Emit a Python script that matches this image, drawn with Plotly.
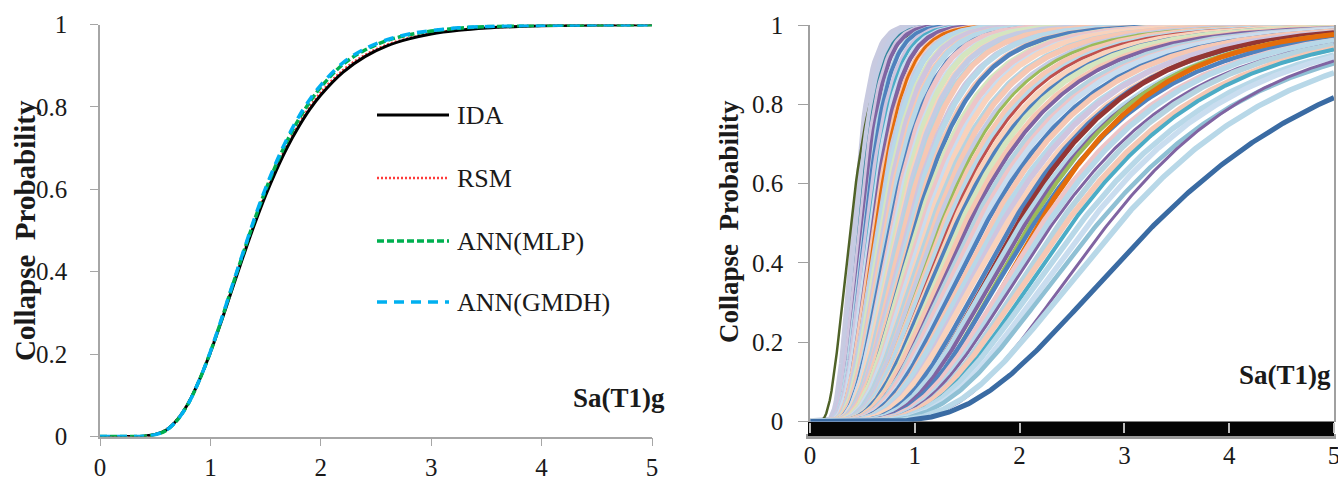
import math
import numpy as np
import plotly.graph_objects as go

# ---------------- Left panel data ----------------
sa_left = [0, 0.1, 0.2, 0.3, 0.4, 0.5, 0.6, 0.7, 0.8, 0.9, 1.0, 1.1, 1.2, 1.3, 1.4, 1.5,
           1.6, 1.7, 1.8, 1.9, 2.0, 2.2, 2.4, 2.6, 2.8, 3.0, 3.25, 3.5, 3.75, 4.0, 4.5, 5.0]
ida = [0, 0, 0, 0.0001, 0.0008, 0.0047, 0.016, 0.041, 0.081, 0.137, 0.204, 0.280, 0.360,
       0.439, 0.515, 0.585, 0.648, 0.704, 0.752, 0.794, 0.829, 0.884, 0.922, 0.948, 0.965,
       0.977, 0.986, 0.9915, 0.9948, 0.9968, 0.9988, 0.9995]
rsm = [0, 0, 0, 0.0001, 0.0009, 0.005, 0.017, 0.042, 0.082, 0.138, 0.206, 0.283, 0.364,
       0.444, 0.521, 0.591, 0.654, 0.710, 0.758, 0.800, 0.835, 0.889, 0.926, 0.951, 0.967,
       0.979, 0.987, 0.992, 0.995, 0.997, 0.9989, 0.9995]
ann_mlp = [0, 0, 0, 0.0001, 0.0008, 0.0045, 0.015, 0.040, 0.080, 0.137, 0.205, 0.283, 0.366,
           0.447, 0.526, 0.598, 0.663, 0.720, 0.770, 0.812, 0.848, 0.903, 0.938, 0.961, 0.975,
           0.984, 0.991, 0.995, 0.997, 0.998, 0.9993, 0.9997]
ann_gmdh = [0, 0, 0, 0.0001, 0.0008, 0.0045, 0.015, 0.040, 0.080, 0.137, 0.206, 0.285, 0.368,
            0.450, 0.530, 0.603, 0.668, 0.726, 0.776, 0.818, 0.853, 0.907, 0.941, 0.963, 0.977,
            0.985, 0.992, 0.995, 0.997, 0.998, 0.9993, 0.9997]
series_names = ["IDA", "RSM", "ANN(MLP)", "ANN(GMDH)"]

# ---------------- Right panel data: fragility curves (median Sa, dispersion) ----------------
frag_median = [0.42, 0.39, 0.45, 0.47, 0.48, 0.50, 0.52, 0.53, 0.55, 0.57, 0.58, 0.60, 0.62,
               0.63, 0.65, 0.67, 0.69,
               0.71, 0.73, 0.75, 0.77, 0.79, 0.81, 0.83, 0.85, 0.87, 0.89, 0.91, 0.94, 0.96,
               0.99, 1.01, 1.04, 1.07, 1.10, 1.13, 1.16, 1.19,
               1.22, 1.25, 1.28, 1.31, 1.34, 1.37, 1.40, 1.44, 1.48, 1.52, 1.56, 1.60, 1.64,
               1.68, 1.73, 1.78, 1.83, 1.88,
               1.93, 1.98, 2.02, 2.06, 2.10, 2.14, 2.18, 2.22, 2.27, 2.32, 2.38, 2.44, 2.50,
               2.58, 2.66, 2.75, 2.85, 2.95, 3.30]
frag_beta = [0.30, 0.45, 0.30, 0.31, 0.32, 0.31, 0.33, 0.32, 0.34, 0.33, 0.35, 0.34, 0.36,
             0.35, 0.37, 0.36, 0.38,
             0.37, 0.39, 0.38, 0.40, 0.39, 0.41, 0.40, 0.42, 0.41, 0.43, 0.42, 0.44, 0.43,
             0.45, 0.44, 0.46, 0.45, 0.46, 0.45, 0.47, 0.46,
             0.48, 0.47, 0.48, 0.49, 0.48, 0.49, 0.50, 0.49, 0.50, 0.49, 0.50, 0.50, 0.49,
             0.50, 0.49, 0.50, 0.48, 0.49,
             0.47, 0.45, 0.47, 0.46, 0.44, 0.46, 0.42, 0.46, 0.45, 0.46, 0.45, 0.46, 0.45,
             0.46, 0.45, 0.46, 0.42, 0.45, 0.46]
frag_color = ["#C8CAE0", "#4F6228", "#C4CBE3", "#31859C", "#CFC5DF", "#8064A2", "#B8D8E8",
              "#4F81BD", "#CFC5DF", "#4BACC6", "#C9DDEF", "#8064A2", "#F6C7B3", "#E46C0A",
              "#C4CBE3", "#B8D8E8", "#D5E5BF",
              "#CFC5DF", "#F6C7B3", "#B8D8E8", "#4F81BD", "#EDC5C8", "#C9DDEF", "#D5E5BF",
              "#F9D2BC", "#C4CBE3", "#B5D3E0", "#F6C7B3", "#CFC5DF", "#B8D8E8", "#F6C7B3",
              "#4F81BD", "#D5E5BF", "#EDC5C8", "#C9DDEF", "#F9D2BC", "#B5D3E0", "#F6C7B3",
              "#C4CBE3", "#9BBB59", "#F6C7B3", "#B8D8E8", "#C0504D", "#F9D2BC", "#4F81BD",
              "#D5E5BF", "#F6C7B3", "#8064A2", "#B5D3E0", "#EDC5C8", "#C9DDEF", "#4F81BD",
              "#F6C7B3", "#B8D8E8", "#CFC5DF", "#F9D2BC",
              "#4F81BD", "#943634", "#B8D8E8", "#8064A2", "#9BBB59", "#4F81BD", "#E46C0A",
              "#EDC5C8", "#B8D8E8", "#8064A2", "#B5D3E0", "#F6C7B3", "#4BACC6", "#B8D8E8",
              "#C9DDEF", "#8FC0D4", "#8064A2", "#B8D8E8", "#3A6BA3"]
frag_width = [6.5, 2.5, 5.5, 3, 5.5, 4, 5.5, 4, 5.5, 3, 5.5, 4.5, 5.5, 3, 5.5, 5.5, 5.5,
              5.5, 5.5, 5.5, 4.5, 5.5, 5.5, 5.5, 5.5, 5.5, 5.5, 5.5, 5.5, 5.5, 5.5, 4.5,
              5.5, 5.5, 5.5, 5.5, 5.5, 5.5,
              5.5, 3, 5.5, 5.5, 3, 5.5, 4.5, 5.5, 5.5, 4, 5.5, 5.5, 5.5, 4.5, 5.5, 5.5,
              5.5, 5.5,
              4.5, 5, 5.5, 4, 4, 4.5, 5, 5.5, 5.5, 3, 5.5, 5.5, 4, 5.5, 5.5, 4.5, 3, 5.5, 5]

FONT = "Liberation Serif"
W, H = 1338, 481

fig = go.Figure()

# left panel traces
fig.add_trace(go.Scatter(x=sa_left, y=rsm, mode="lines", name=series_names[1],
                         line=dict(color="#FF3B3B", width=2.5, dash="2px,2px", shape="spline"),
                         xaxis="x", yaxis="y", showlegend=False))
fig.add_trace(go.Scatter(x=sa_left, y=ida, mode="lines", name=series_names[0],
                         line=dict(color="#000000", width=3, shape="spline"),
                         xaxis="x", yaxis="y", showlegend=False))
fig.add_trace(go.Scatter(x=sa_left, y=ann_mlp, mode="lines", name=series_names[2],
                         line=dict(color="#00B050", width=3.5, dash="7px,3px", shape="spline"),
                         xaxis="x", yaxis="y", showlegend=False))
fig.add_trace(go.Scatter(x=sa_left, y=ann_gmdh, mode="lines", name=series_names[3],
                         line=dict(color="#00B0F0", width=3.5, dash="10px,7px", shape="spline"),
                         xaxis="x", yaxis="y", showlegend=False))

# right panel traces (lognormal fragility curves from read median / dispersion)
sa_grid = np.linspace(0.005, 5, 300)
for m, b, c, w in zip(frag_median, frag_beta, frag_color, frag_width):
    p = [0.5 * (1 + math.erf(math.log(s / m) / (b * math.sqrt(2)))) for s in sa_grid]
    fig.add_trace(go.Scatter(x=sa_grid, y=p, mode="lines", line=dict(color=c, width=w),
                             xaxis="x2", yaxis="y2", showlegend=False, hoverinfo="skip"))

# domains in paper fraction
xl = [100 / W, 652 / W]
yl = [1 - 436.5 / H, 1 - 24.5 / H]
xr = [810 / W, 1334 / W]
yr = [1 - 421.5 / H, 1 - 25 / H]

axis_common = dict(showgrid=False, zeroline=False, ticks="outside", automargin=False,
                   ticklabeloverflow="allow",
                   tickfont=dict(family=FONT, size=25, color="#1a1a1a"))

fig.update_layout(
    width=W, height=H, margin=dict(l=0, r=0, t=0, b=0, autoexpand=False),
    paper_bgcolor="white", plot_bgcolor="white",
    xaxis=dict(domain=xl, range=[0, 5], tickvals=[0, 1, 2, 3, 4, 5], showline=True,
               linecolor="#A6A6A6", linewidth=1.5, tickcolor="#A6A6A6", ticklen=8,
               ticklabelstandoff=0, anchor="y", **axis_common),
    yaxis=dict(domain=yl, range=[0, 1], tickvals=[0, 0.2, 0.4, 0.6, 0.8, 1],
               ticktext=["0", "0.2", "0.4", "0.6", "0.8", "1"], showline=True,
               linecolor="#A6A6A6", linewidth=1.5, tickcolor="#A6A6A6", ticklen=8,
               ticklabelstandoff=18, anchor="x", **axis_common),
    xaxis2=dict(domain=xr, range=[0, 5], tickvals=[0, 1, 2, 3, 4, 5], showline=False,
                tickcolor="#BDBDBD", tickwidth=1.5, ticklen=10, ticklabelstandoff=1,
                anchor="y2", **axis_common),
    yaxis2=dict(domain=yr, range=[0, 1], tickvals=[0, 0.2, 0.4, 0.6, 0.8, 1],
                ticktext=["0", "0.2", "0.4", "0.6", "0.8", "1"], showline=True, mirror=True,
                linecolor="#A0A0A0", linewidth=1.5, tickcolor="#A0A0A0", ticklen=10,
                ticklabelstandoff=10, anchor="x2", **axis_common),
)

shapes = []
# shadow bar under right x-axis
shapes.append(dict(type="rect", xref="paper", yref="paper", x0=806 / W, x1=1336 / W,
                   y0=1 - 439 / H, y1=1 - 434 / H, fillcolor="#9A9A9A", line=dict(width=0),
                   layer="below"))
shapes.append(dict(type="rect", xref="paper", yref="paper", x0=808 / W, x1=1334 / W,
                   y0=1 - 436 / H, y1=1 - 421.5 / H, fillcolor="#050505", line=dict(width=0),
                   layer="below"))

# manual legend for the left panel
leg_y = [115, 178, 241, 302]
leg_style = [dict(color="#000000", width=3),
             dict(color="#FF3B3B", width=2.5, dash="2px,2px"),
             dict(color="#00B050", width=3.5, dash="7px,3px"),
             dict(color="#00B0F0", width=3.5, dash="10px,7px")]
annotations = []
for name, yy, st in zip(series_names, leg_y, leg_style):
    shapes.append(dict(type="line", xref="paper", yref="paper", x0=377 / W, x1=449 / W,
                       y0=1 - yy / H, y1=1 - yy / H, line=st))
    annotations.append(dict(text=name, xref="paper", yref="paper", x=455 / W, y=1 - yy / H,
                            xanchor="left", yanchor="middle", showarrow=False,
                            font=dict(family=FONT, size=26, color="#1a1a1a")))

ytitle = "Collapse\u00a0\u00a0Probability"
annotations += [
    dict(text="<b>" + ytitle + "</b>", xref="paper", yref="paper", x=25 / W, y=1 - 231 / H,
         textangle=-90, showarrow=False, xanchor="center", yanchor="middle",
         font=dict(family=FONT, size=29, color="#1a1a1a")),
    dict(text="<b>" + ytitle + "</b>", xref="paper", yref="paper", x=729 / W, y=1 - 222 / H,
         textangle=-90, showarrow=False, xanchor="center", yanchor="middle",
         font=dict(family=FONT, size=27, color="#1a1a1a")),
    dict(text="<b>Sa(T1)g</b>", xref="paper", yref="paper", x=571 / W, y=1 - 398 / H,
         xanchor="left", yanchor="middle", showarrow=False,
         font=dict(family=FONT, size=27, color="#1a1a1a")),
    dict(text="<b>Sa(T1)g</b>", xref="paper", yref="paper", x=1237 / W, y=1 - 375 / H,
         xanchor="left", yanchor="middle", showarrow=False,
         font=dict(family=FONT, size=27, color="#1a1a1a")),
]
fig.update_layout(shapes=shapes, annotations=annotations)

fig.write_html("out.html")
